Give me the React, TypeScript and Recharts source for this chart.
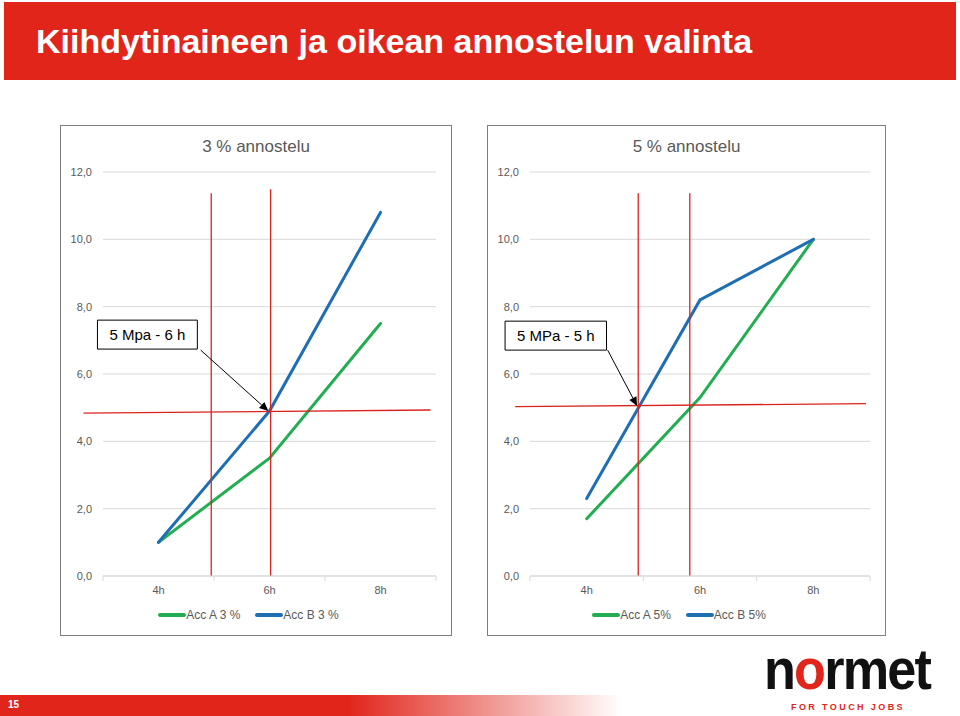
import React from "react";
import {
  LineChart,
  Line,
  XAxis,
  YAxis,
  CartesianGrid,
  Legend,
  ReferenceLine,
  ReferenceArea,
} from "recharts";

// hours on the x axis
const hours = [4, 6, 8];
const hourTicks = [3, 4, 5, 6, 7, 8, 9];
const yTicks = [0, 2, 4, 6, 8, 10, 12];

// strength values (MPa)
const accA3 = [1.0, 3.5, 7.5];
const accB3 = [1.0, 4.9, 10.8];
const accA5 = [1.7, 5.3, 10.0];
const accB5 = [2.3, 8.2, 10.0];

// red guide lines drawn on the slide
const vLines3 = [
  { x: 4.95, top: 11.37 },
  { x: 6.02, top: 11.49 },
];
const vLines5 = [
  { x: 4.91, top: 11.37 },
  { x: 5.82, top: 11.37 },
];
const hLine3 = [
  { x: 2.65, y: 4.84 },
  { x: 8.9, y: 4.93 },
];
const hLine5 = [
  { x: 2.74, y: 5.03 },
  { x: 8.93, y: 5.12 },
];

// callout boxes + arrows
const box3 = { x1: 2.9, x2: 4.7, y1: 6.74, y2: 7.6, text: "5 Mpa - 6 h" };
const box5 = { x1: 2.56, x2: 4.35, y1: 6.71, y2: 7.57, text: "5 MPa - 5 h" };
const arrow3 = [
  { x: 4.76, y: 6.71 },
  { x: 5.98, y: 4.9 },
];
const arrow5 = [
  { x: 4.37, y: 6.71 },
  { x: 4.89, y: 5.05 },
];

const GREEN = "#22ad52";
const BLUE = "#1f6eb4";
const RED = "#d9231d";
const GRAY = "#595959";
const FONT = "'Liberation Sans', Arial, sans-serif";

const HourTick = (props: any) => {
  const { x, y, payload } = props;
  const v = payload.value;
  if (v % 2 === 1) {
    return <line x1={x} y1={y} x2={x} y2={y + 5} stroke="#d9d9d9" />;
  }
  return (
    <text x={x} y={y + 18} textAnchor="middle" fontSize={11} fill={GRAY} fontFamily={FONT}>
      {v}h
    </text>
  );
};

const Arrow = (p: any) => {
  const { x1, y1, x2, y2 } = p;
  const ang = Math.atan2(y2 - y1, x2 - x1);
  const len = 9;
  const w = 4;
  const c = Math.cos(ang);
  const s = Math.sin(ang);
  const bx = x2 - len * c;
  const by = y2 - len * s;
  return (
    <g>
      <line x1={x1} y1={y1} x2={bx} y2={by} stroke="#000" strokeWidth={1} />
      <polygon
        points={`${x2},${y2} ${bx + w * s},${by - w * c} ${bx - w * s},${by + w * c}`}
        fill="#000"
      />
    </g>
  );
};

const LegendContent = ({ names }: { names: string[] }) => (
  <div
    style={{
      display: "flex",
      justifyContent: "center",
      gap: 15,
      fontFamily: FONT,
      fontSize: 12,
      color: GRAY,
      paddingTop: 2,
    }}
  >
    {names.map((n, i) => (
      <span key={n} style={{ display: "flex", alignItems: "center" }}>
        <span
          style={{
            display: "inline-block",
            width: 28,
            height: 4,
            background: i === 0 ? GREEN : BLUE,
            borderRadius: 2,
          }}
        />
        {n}
      </span>
    ))}
  </div>
);

interface PanelProps {
  left: number;
  width: number;
  title: string;
  a: number[];
  b: number[];
  names: string[];
  vLines: { x: number; top: number }[];
  hLine: { x: number; y: number }[];
  box: { x1: number; x2: number; y1: number; y2: number; text: string };
  arrow: { x: number; y: number }[];
}

const Panel = ({ left, width, title, a, b, names, vLines, hLine, box, arrow }: PanelProps) => {
  const data = hours.map((h, i) => ({ h, a: a[i], b: b[i] }));
  const inner = width - 2;
  return (
    <div
      style={{
        position: "absolute",
        left,
        top: 125,
        width,
        height: 511,
        boxSizing: "border-box",
        border: "1px solid #7f7f7f",
        background: "#fff",
      }}
    >
      <div
        style={{
          position: "absolute",
          top: 10,
          left: 0,
          width: "100%",
          textAlign: "center",
          fontFamily: FONT,
          fontSize: 17,
          lineHeight: "22px",
          color: GRAY,
        }}
      >
        {title}
      </div>
      <LineChart
        width={inner}
        height={509}
        data={data}
        margin={{ top: 46, right: 15, left: 0, bottom: 0 }}
      >
        <CartesianGrid vertical={false} stroke="#d9d9d9" />
        <XAxis
          dataKey="h"
          type="number"
          domain={[3, 9]}
          ticks={hourTicks}
          interval={0}
          tickLine={false}
          tickSize={0}
          tickMargin={0}
          height={30}
          stroke="#d9d9d9"
          tick={(p: any) => <HourTick {...p} />}
        />
        <YAxis
          domain={[0, 12]}
          ticks={yTicks}
          width={42}
          axisLine={false}
          tickLine={false}
          tickSize={0}
          tickMargin={11}
          tick={{ fontSize: 11, fill: GRAY, fontFamily: FONT }}
          tickFormatter={(v: number) => v.toFixed(1).replace(".", ",")}
        />
        <Legend
          verticalAlign="bottom"
          height={29}
          content={() => <LegendContent names={names} />}
        />
        <Line
          dataKey="a"
          name={names[0]}
          type="linear"
          stroke={GREEN}
          strokeWidth={3}
          dot={false}
          strokeLinecap="round"
          isAnimationActive={false}
        />
        <Line
          dataKey="b"
          name={names[1]}
          type="linear"
          stroke={BLUE}
          strokeWidth={3}
          dot={false}
          strokeLinecap="round"
          isAnimationActive={false}
        />
        {vLines.map((v) => (
          <ReferenceLine
            key={v.x}
            segment={[
              { x: v.x, y: 0 },
              { x: v.x, y: v.top },
            ]}
            stroke={RED}
            strokeWidth={1.3}
            ifOverflow="visible"
          />
        ))}
        <ReferenceLine segment={hLine} stroke={RED} strokeWidth={1.3} ifOverflow="visible" />
        <ReferenceArea
          x1={box.x1}
          x2={box.x2}
          y1={box.y1}
          y2={box.y2}
          fill="#fff"
          fillOpacity={1}
          stroke="#000"
          strokeWidth={1}
          ifOverflow="visible"
          label={{ value: box.text, position: "center", fill: "#000", fontSize: 15, fontFamily: FONT }}
        />
        <ReferenceLine segment={arrow} ifOverflow="visible" shape={(p: any) => <Arrow {...p} />} />
      </LineChart>
    </div>
  );
};

export default function App() {
  return (
    <div
      style={{
        position: "absolute",
        left: 0,
        top: 0,
        width: 960,
        height: 716,
        background: "#fff",
        overflow: "hidden",
      }}
    >
      <div
        style={{
          position: "absolute",
          left: 4,
          top: 2,
          width: 952,
          height: 78,
          background: "#e2251b",
        }}
      >
        <div
          style={{
            position: "absolute",
            left: 32,
            top: 19,
            lineHeight: "40px",
            fontFamily: "'Liberation Sans Narrow', 'Liberation Sans', Arial, sans-serif",
            fontWeight: "bold",
            fontSize: 34,
            color: "#fff",
            whiteSpace: "nowrap",
          }}
        >
          Kiihdytinaineen ja oikean annostelun valinta
        </div>
      </div>

      <Panel
        left={60}
        width={392}
        title="3 % annostelu"
        a={accA3}
        b={accB3}
        names={["Acc A 3 %", "Acc B 3 %"]}
        vLines={vLines3}
        hLine={hLine3}
        box={box3}
        arrow={arrow3}
      />
      <Panel
        left={487}
        width={399}
        title="5 % annostelu"
        a={accA5}
        b={accB5}
        names={["Acc A 5%", "Acc B 5%"]}
        vLines={vLines5}
        hLine={hLine5}
        box={box5}
        arrow={arrow5}
      />

      <div
        style={{
          position: "absolute",
          left: 0,
          top: 695,
          width: 622,
          height: 21,
          background: "linear-gradient(to right, #e1251b 0%, #e1251b 56%, rgba(225,37,27,0) 100%)",
        }}
      >
        <span
          style={{
            position: "absolute",
            left: 8,
            top: 4,
            fontFamily: FONT,
            fontWeight: "bold",
            fontSize: 10,
            color: "#fff",
          }}
        >
          15
        </span>
      </div>

      <div
        style={{
          position: "absolute",
          left: 764,
          top: 645,
          width: 168,
          height: 48,
          overflow: "visible",
        }}
      >
        <div
          style={{
            fontFamily: FONT,
            fontWeight: "bold",
            fontSize: 58,
            lineHeight: "48px",
            color: "#111",
            letterSpacing: -2,
            whiteSpace: "nowrap",
            transform: "scaleX(0.9)",
            transformOrigin: "0 0",
          }}
        >
          n<span style={{ color: "#e2251b" }}>o</span>rmet
        </div>
      </div>
      <div
        style={{
          position: "absolute",
          left: 764,
          top: 702,
          width: 168,
          textAlign: "center",
          fontFamily: FONT,
          fontWeight: "bold",
          fontSize: 9,
          lineHeight: "10px",
          letterSpacing: 2.4,
          color: "#e2251b",
        }}
      >
        FOR TOUCH JOBS
      </div>
    </div>
  );
}
